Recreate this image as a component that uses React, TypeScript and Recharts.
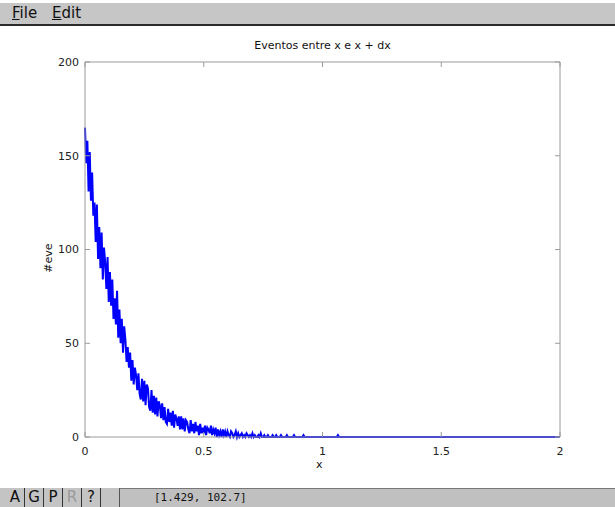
import React from "react";
import { LineChart, Line, XAxis, YAxis } from "recharts";

// histogram: events per bin of width dx, bins start at x = 0
const binWidth = 0.005;

const eventCounts = [
  165, 146, 158, 131, 152, 126, 141, 118, 125, 104, 124, 95, 112, 90, 109, 84, 101, 93, 79, 96,
  72, 88, 70, 84, 63, 74, 60, 78, 53, 68, 50, 63, 45, 59, 52, 40, 48, 37, 45, 30,
  41, 28, 37, 33, 25, 34, 23, 20, 31, 19, 30, 17, 28, 26, 16, 14, 25, 13, 22, 12,
  21, 11, 19, 17, 10, 18, 9, 16, 8, 7, 15, 8, 13, 6, 14, 5, 12, 10, 6, 11,
  4, 11, 4, 10, 3, 9, 8, 4, 2, 9, 3, 7, 2, 8, 3, 6, 1, 7, 2, 5,
  2, 6, 1, 5, 4, 2, 6, 1, 4, 2, 5, 0, 4, 1, 3, 0, 4, 1, 3, 0,
  3, 1, 0, 3, 2, 0, 1, 3, 0, 2, 0, 1, 2, 0, 1, 0, 2, 1, 0, 1,
  0, 2, 0, 1, 0, 0, 1, 0, 2, 0, 0, 1, 0, 0, 1, 0, 0, 0, 1, 0,
  0, 1, 0, 0, 0, 1, 0, 0, 0, 0, 1, 0, 0, 0, 0, 0, 1, 0, 0, 0,
  0, 0, 0, 0, 1, 0, 0, 0, 0, 0, 0, 0, 0, 0, 0, 0, 0, 0, 0, 0,
  0, 0, 0, 0, 0, 0, 0, 0, 0, 0, 0, 0, 0, 1, 0, 0, 0, 0, 0, 0,
  0, 0, 0, 0, 0, 0, 0, 0, 0, 0, 0, 0, 0, 0, 0, 0, 0, 0, 0, 0,
  0, 0, 0, 0, 0, 0, 0, 0, 0, 0, 0, 0, 0, 0, 0, 0, 0, 0, 0, 0,
  0, 0, 0, 0, 0, 0, 0, 0, 0, 0, 0, 0, 0, 0, 0, 0, 0, 0, 0, 0,
  0, 0, 0, 0, 0, 0, 0, 0, 0, 0, 0, 0, 0, 0, 0, 0, 0, 0, 0, 0,
  0, 0, 0, 0, 0, 0, 0, 0, 0, 0, 0, 0, 0, 0, 0, 0, 0, 0, 0, 0,
  0, 0, 0, 0, 0, 0, 0, 0, 0, 0, 0, 0, 0, 0, 0, 0, 0, 0, 0, 0,
  0, 0, 0, 0, 0, 0, 0, 0, 0, 0, 0, 0, 0, 0, 0, 0, 0, 0, 0, 0,
  0, 0, 0, 0, 0, 0, 0, 0, 0, 0, 0, 0, 0, 0, 0, 0, 0, 0, 0, 0,
  0, 0, 0, 0, 0, 0, 0, 0, 0, 0, 0, 0, 0, 0, 0, 0, 0, 0, 0, 0,
  0,
];

const xTicks = [0, 0.5, 1, 1.5, 2];
const yTicks = [0, 50, 100, 150, 200];

const title = "Eventos entre x e x + dx";
const xLabel = "x";
const yLabel = "#eve";
const menuItems = ["File", "Edit"];
const toolButtons = ["A", "G", "P", "R", "?"];
const cursorReadout = "[1.429, 102.7]";

const data = eventCounts.map((n, i) => ({ x: i * binWidth, n }));

const font = "'DejaVu Sans', sans-serif";
const axisGray = "#9a9a9a";
const TICK = 5;

function LeftTick(props: any) {
  const { x, y, payload } = props;
  return (
    <g>
      <line x1={x} x2={x + TICK} y1={y} y2={y} stroke={axisGray} />
      <text x={x - 6} y={y} dy="0.35em" textAnchor="end" fontSize={11} fill="#222" fontFamily={font}>
        {payload.value}
      </text>
    </g>
  );
}

function BottomTick(props: any) {
  const { x, y, payload } = props;
  return (
    <g>
      <line x1={x} x2={x} y1={y} y2={y - TICK} stroke={axisGray} />
      <text x={x} y={y + 18} textAnchor="middle" fontSize={11} fill="#222" fontFamily={font}>
        {payload.value}
      </text>
    </g>
  );
}

function TopTick(props: any) {
  const { x, y } = props;
  return <line x1={x} x2={x} y1={y} y2={y + TICK} stroke={axisGray} />;
}

function RightTick(props: any) {
  const { x, y } = props;
  return <line x1={x} x2={x - TICK} y1={y} y2={y} stroke={axisGray} />;
}

export default function App() {
  return (
    <div
      style={{
        position: "fixed",
        left: 0,
        top: 0,
        width: 615,
        height: 507,
        background: "#fff",
        overflow: "hidden",
        fontFamily: font,
      }}
    >
      {/* menu bar */}
      <div
        style={{
          position: "absolute",
          left: 0,
          top: 3,
          width: 615,
          height: 21,
          background: "#c6c6c6",
          borderBottom: "2px solid #2a2a2a",
        }}
      >
        {menuItems.map((m, i) => (
          <span
            key={m}
            style={{ position: "absolute", left: 12 + i * 40, top: 1, fontSize: 15, color: "#111" }}
          >
            <span style={{ textDecoration: "underline" }}>{m[0]}</span>
            {m.slice(1)}
          </span>
        ))}
      </div>

      <LineChart
        width={615}
        height={487}
        data={data}
        margin={{ top: 61, right: 54, bottom: 20, left: 45 }}
        style={{ position: "absolute", left: 0, top: 0 }}
      >
        <XAxis
          xAxisId="b"
          dataKey="x"
          type="number"
          domain={[0, 2]}
          ticks={xTicks}
          height={30}
          tickSize={0}
          tickMargin={0}
          tickLine={false}
          stroke={axisGray}
          tick={<BottomTick />}
        />
        <XAxis
          xAxisId="t"
          dataKey="x"
          orientation="top"
          type="number"
          domain={[0, 2]}
          ticks={xTicks}
          height={1}
          tickSize={0}
          tickMargin={0}
          tickLine={false}
          stroke={axisGray}
          tick={<TopTick />}
        />
        <YAxis
          yAxisId="l"
          type="number"
          domain={[0, 200]}
          ticks={yTicks}
          width={40}
          tickSize={0}
          tickMargin={0}
          tickLine={false}
          stroke={axisGray}
          tick={<LeftTick />}
        />
        <YAxis
          yAxisId="r"
          orientation="right"
          type="number"
          domain={[0, 200]}
          ticks={yTicks}
          width={1}
          tickSize={0}
          tickMargin={0}
          tickLine={false}
          stroke={axisGray}
          tick={<RightTick />}
        />
        {/* invisible twin so the top/right frame axes get drawn */}
        <Line
          xAxisId="t"
          yAxisId="r"
          dataKey="n"
          stroke="none"
          dot={false}
          activeDot={false}
          isAnimationActive={false}
        />
        <Line
          xAxisId="b"
          yAxisId="l"
          type="linear"
          dataKey="n"
          stroke="#0000ff"
          strokeWidth={2}
          dot={false}
          isAnimationActive={false}
        />
      </LineChart>

      <div style={{ position: "absolute", left: 0, width: 615, top: 39, textAlign: "center", fontSize: 11, color: "#111" }}>
        <span style={{ position: "relative", left: 15 }}>{title}</span>
      </div>
      <div style={{ position: "absolute", left: 316, top: 458, fontSize: 11, color: "#111" }}>{xLabel}</div>
      <div
        style={{
          position: "absolute",
          left: 48,
          top: 258,
          fontSize: 11,
          color: "#111",
          transform: "translate(-50%, -50%) rotate(-90deg)",
          whiteSpace: "nowrap",
        }}
      >
        {yLabel}
      </div>

      {/* status bar */}
      <div
        style={{
          position: "absolute",
          left: 0,
          top: 488,
          width: 615,
          height: 19,
          background: "#c4c4c4",
          display: "flex",
          alignItems: "stretch",
        }}
      >
        <div style={{ width: 6 }} />
        {toolButtons.map((b) => (
          <div
            key={b}
            style={{
              width: 18,
              borderRight: "1px solid #333",
              textAlign: "center",
              fontSize: 15,
              lineHeight: "19px",
              color: b === "R" ? "#9a9a9a" : "#111",
            }}
          >
            {b}
          </div>
        ))}
        <div style={{ width: 18 }} />
        <div
          style={{
            flex: 1,
            borderLeft: "1px solid #555",
            borderTop: "1px solid #777",
            background: "#c0c0c0",
            fontFamily: "'DejaVu Sans Mono', monospace",
            fontSize: 11,
            lineHeight: "18px",
            paddingLeft: 34,
            color: "#111",
          }}
        >
          {cursorReadout}
        </div>
      </div>
    </div>
  );
}
